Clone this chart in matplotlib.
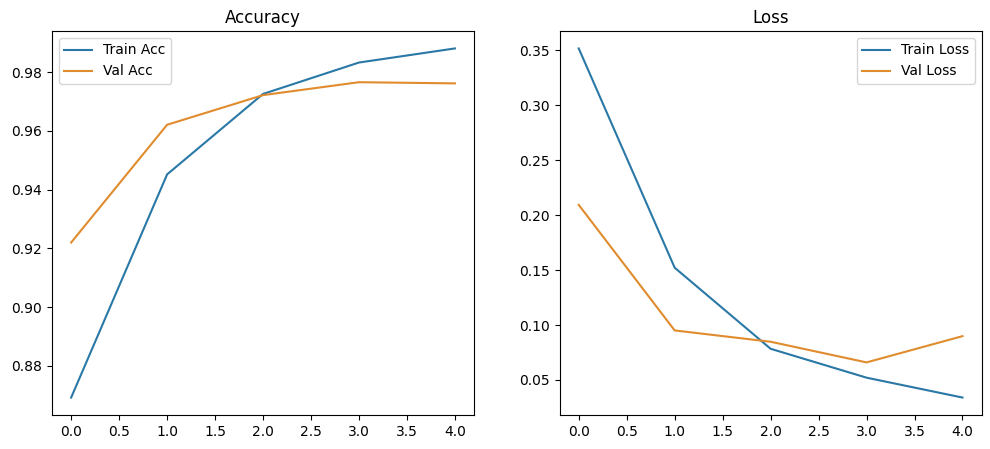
import matplotlib
matplotlib.use('Agg')
import matplotlib.pyplot as plt

# Values
epochs = [0, 1, 2, 3, 4]
train_acc = [0.8692, 0.9452, 0.9726, 0.9833, 0.9881]
val_acc = [0.9220, 0.9621, 0.9722, 0.9766, 0.9762]
train_loss = [0.3518, 0.1522, 0.0784, 0.0521, 0.0340]
val_loss = [0.2094, 0.0951, 0.0848, 0.0660, 0.0899]

train_color = '#2a78a6'
val_color = '#e08c2e'

fig = plt.figure(figsize=(9.9, 4.49), dpi=100)

# Accuracy
ax1 = fig.add_subplot(1, 2, 1)
ax1.plot(epochs, train_acc, color=train_color, label='Train Acc')
ax1.plot(epochs, val_acc, color=val_color, label='Val Acc')
ax1.set_title('Accuracy')
ax1.legend()

# Loss
ax2 = fig.add_subplot(1, 2, 2)
ax2.plot(epochs, train_loss, color=train_color, label='Train Loss')
ax2.plot(epochs, val_loss, color=val_color, label='Val Loss')
ax2.set_title('Loss')
ax2.legend()

plt.subplots_adjust(left=0.0525, right=0.9916, top=0.931, bottom=0.0757, wspace=0.2024)
plt.savefig('out.png', dpi=100)
